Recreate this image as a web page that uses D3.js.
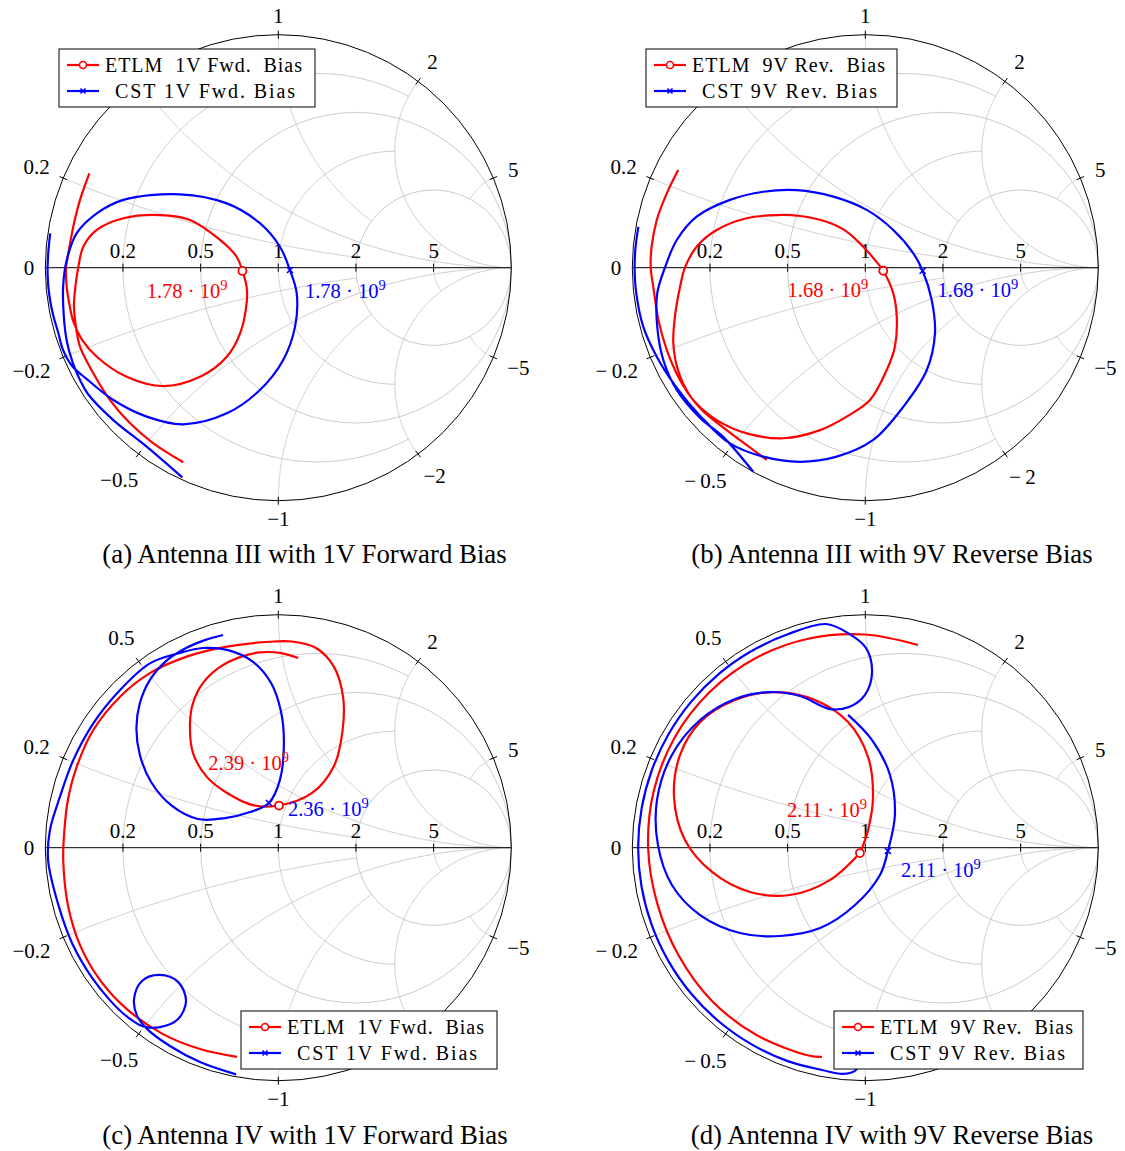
<!DOCTYPE html>
<html>
<head>
<meta charset="utf-8">
<script src="https://cdn.jsdelivr.net/npm/d3@7"></script>
<style>
  body { margin: 0; background: #fff; }
  svg { display: block; font-family: "Liberation Serif", "Times New Roman", serif; }
</style>
</head>
<body>
<svg id="fig" width="1125" height="1151"></svg>
<script>
// ---- Reflection coefficient traces, [Re Γ, Im Γ] ----
// Antenna III, 1 V forward bias
const etlmFwdIII = [[-0.811,0.405],[-0.851,0.291],[-0.880,0.176],[-0.901,0.062],[-0.911,-0.001],[-0.908,-0.083],[-0.896,-0.160],[-0.879,-0.233],[-0.842,-0.310],[-0.779,-0.382],[-0.651,-0.468],[-0.494,-0.508],[-0.336,-0.468],[-0.221,-0.382],[-0.164,-0.282],[-0.136,-0.153],[-0.136,-0.082],[-0.154,-0.014],[-0.179,0.047],[-0.250,0.119],[-0.379,0.205],[-0.508,0.226],[-0.665,0.212],[-0.779,0.162],[-0.837,0.090],[-0.858,0.004],[-0.870,-0.074],[-0.877,-0.160],[-0.870,-0.242],[-0.851,-0.339],[-0.794,-0.453],[-0.722,-0.568],[-0.636,-0.668],[-0.536,-0.754],[-0.408,-0.835]];
const cstFwdIII = [[-0.979,0.147],[-0.988,0.054],[-0.990,-0.031],[-0.983,-0.116],[-0.967,-0.201],[-0.945,-0.277],[-0.924,-0.353],[-0.885,-0.422],[-0.822,-0.478],[-0.708,-0.568],[-0.565,-0.639],[-0.408,-0.672],[-0.221,-0.625],[-0.079,-0.525],[0.021,-0.396],[0.072,-0.253],[0.079,-0.110],[0.050,-0.010],[0.007,0.090],[-0.079,0.191],[-0.221,0.276],[-0.422,0.315],[-0.665,0.291],[-0.779,0.233],[-0.865,0.148],[-0.908,0.033],[-0.923,-0.074],[-0.921,-0.203],[-0.907,-0.319],[-0.883,-0.405],[-0.851,-0.482],[-0.817,-0.542],[-0.708,-0.654],[-0.565,-0.768],[-0.412,-0.900]];
// Antenna III, 9 V reverse bias
const etlmRevIII = [[-0.803,0.419],[-0.852,0.319],[-0.895,0.205],[-0.917,0.090],[-0.921,0.000],[-0.910,-0.082],[-0.888,-0.224],[-0.852,-0.353],[-0.800,-0.473],[-0.735,-0.572],[-0.638,-0.654],[-0.509,-0.711],[-0.352,-0.732],[-0.194,-0.697],[-0.080,-0.639],[0.020,-0.568],[0.092,-0.439],[0.127,-0.339],[0.135,-0.210],[0.120,-0.110],[0.077,-0.013],[0.049,0.024],[-0.009,0.090],[-0.080,0.155],[-0.166,0.197],[-0.280,0.222],[-0.380,0.226],[-0.509,0.212],[-0.638,0.162],[-0.724,0.090],[-0.774,0.000],[-0.795,-0.082],[-0.817,-0.210],[-0.824,-0.324],[-0.804,-0.439],[-0.757,-0.542],[-0.697,-0.615],[-0.595,-0.697],[-0.481,-0.782],[-0.423,-0.825]];
const cstRevIII = [[-0.974,0.175],[-0.986,0.088],[-0.990,0.000],[-0.983,-0.109],[-0.953,-0.253],[-0.895,-0.382],[-0.809,-0.516],[-0.709,-0.636],[-0.581,-0.754],[-0.438,-0.811],[-0.280,-0.833],[-0.123,-0.811],[0.034,-0.739],[0.163,-0.597],[0.264,-0.439],[0.299,-0.282],[0.285,-0.139],[0.246,-0.013],[0.206,0.062],[0.120,0.162],[0.006,0.248],[-0.137,0.305],[-0.294,0.333],[-0.438,0.326],[-0.581,0.291],[-0.724,0.219],[-0.809,0.119],[-0.860,0.000],[-0.893,-0.110],[-0.893,-0.253],[-0.867,-0.396],[-0.809,-0.525],[-0.709,-0.645],[-0.609,-0.727],[-0.481,-0.876]];
// Antenna IV, 1 V forward bias
const etlmFwdIV = [[-0.177,-0.898],[-0.336,-0.864],[-0.495,-0.800],[-0.645,-0.697],[-0.765,-0.568],[-0.851,-0.418],[-0.903,-0.246],[-0.923,-0.053],[-0.918,0.076],[-0.903,0.205],[-0.865,0.348],[-0.794,0.505],[-0.679,0.648],[-0.551,0.749],[-0.393,0.820],[-0.221,0.863],[-0.036,0.884],[0.059,0.885],[0.162,0.857],[0.239,0.776],[0.278,0.647],[0.276,0.505],[0.239,0.351],[0.145,0.235],[0.003,0.181],[-0.109,0.183],[-0.220,0.235],[-0.306,0.303],[-0.366,0.406],[-0.379,0.535],[-0.366,0.621],[-0.323,0.707],[-0.250,0.776],[-0.164,0.818],[-0.079,0.838],[0.007,0.836],[0.085,0.814]];
const cstFwdIV = [[-0.237,0.913],[-0.315,0.891],[-0.396,0.857],[-0.482,0.801],[-0.551,0.720],[-0.594,0.621],[-0.609,0.514],[-0.594,0.398],[-0.546,0.282],[-0.456,0.179],[-0.345,0.123],[-0.229,0.127],[-0.121,0.153],[-0.040,0.192],[0.007,0.291],[0.024,0.441],[0.012,0.582],[-0.031,0.707],[-0.113,0.801],[-0.216,0.848],[-0.323,0.857],[-0.422,0.836],[-0.551,0.791],[-0.679,0.677],[-0.794,0.534],[-0.880,0.376],[-0.937,0.219],[-0.980,0.076],[-0.988,-0.053],[-0.942,-0.252],[-0.884,-0.412],[-0.799,-0.559],[-0.725,-0.652],[-0.658,-0.718],[-0.585,-0.765],[-0.508,-0.770],[-0.430,-0.735],[-0.396,-0.658],[-0.430,-0.576],[-0.508,-0.546],[-0.585,-0.572],[-0.619,-0.649],[-0.606,-0.722],[-0.559,-0.782],[-0.465,-0.851],[-0.336,-0.920],[-0.181,-0.973]];
// Antenna IV, 9 V reverse bias
const etlmRevIVArc = [[0.226,0.870],[0.000,0.915],[-0.241,0.898],[-0.470,0.814],[-0.668,0.668],[-0.818,0.473],[-0.908,0.243],[-0.932,0.000],[-0.893,-0.239],[-0.801,-0.463],[-0.658,-0.658],[-0.465,-0.805],[-0.239,-0.893],[-0.186,-0.898]];
const etlmRevIVLoop = [[-0.023,-0.023],[-0.152,-0.139],[-0.323,-0.203],[-0.495,-0.190],[-0.658,-0.104],[-0.774,0.033],[-0.821,0.218],[-0.795,0.398],[-0.709,0.539],[-0.559,0.634],[-0.388,0.668],[-0.216,0.634],[-0.074,0.539],[0.012,0.389],[0.033,0.218],[0.012,0.076],[-0.023,-0.023]];
const cstRevIV = [[-0.023,-0.912],[-0.040,-0.954],[-0.096,-0.971],[-0.186,-0.954],[-0.333,-0.916],[-0.488,-0.844],[-0.627,-0.747],[-0.747,-0.627],[-0.844,-0.488],[-0.916,-0.333],[-0.960,-0.169],[-0.975,0.000],[-0.960,0.169],[-0.916,0.333],[-0.844,0.488],[-0.747,0.627],[-0.627,0.747],[-0.488,0.844],[-0.333,0.916],[-0.169,0.960],[-0.074,0.921],[0.003,0.857],[0.029,0.754],[-0.002,0.655],[-0.070,0.604],[-0.152,0.595],[-0.280,0.651],[-0.409,0.668],[-0.559,0.638],[-0.709,0.548],[-0.830,0.398],[-0.894,0.205],[-0.890,0.012],[-0.830,-0.160],[-0.709,-0.289],[-0.538,-0.366],[-0.366,-0.379],[-0.194,-0.345],[-0.044,-0.246],[0.063,-0.117],[0.097,-0.014],[0.127,0.140],[0.106,0.312],[0.029,0.462],[-0.074,0.570]];

// Resonance points marked on each trace, [Re Γ, Im Γ] and frequency (GHz)
const markEtlmFwdIII = [-0.154,-0.014], fEtlmFwdIII = "1.78";
const markCstFwdIII  = [0.050,-0.010],  fCstFwdIII  = "1.78";
const markEtlmRevIII = [0.077,-0.013],  fEtlmRevIII = "1.68";
const markCstRevIII  = [0.246,-0.013],  fCstRevIII  = "1.68";
const markEtlmFwdIV  = [0.003,0.181],   fEtlmFwdIV  = "2.39";
const markCstFwdIV   = [-0.040,0.192],  fCstFwdIV   = "2.36";
const markEtlmRevIV  = [-0.023,-0.023], fEtlmRevIV  = "2.11";
const markCstRevIV   = [0.097,-0.014],  fCstRevIV   = "2.11";

// Smith chart grid values
const resistanceTicks = [0.2, 0.5, 1, 2, 5];
const reactanceTicks = [0.2, 0.5, 1, 2, 5, -0.2, -0.5, -1, -2, -5];
const fullResistance = [0.5, 2];   // other circles stop at |x| = 2
const fullReactance = [0.5, 2];    // other arcs stop at r = 2
const gridStop = 2;

const captions = [
  "(a) Antenna III with 1V Forward Bias",
  "(b) Antenna III with 9V Reverse Bias",
  "(c) Antenna IV with 1V Forward Bias",
  "(d) Antenna IV with 9V Reverse Bias"
];
const legendEtlm = ["ETLM  1V Fwd.  Bias", "ETLM  9V Rev.  Bias", "ETLM  1V Fwd.  Bias", "ETLM  9V Rev.  Bias"];
const legendCst  = ["CST 1V Fwd. Bias", "CST 9V Rev. Bias", "CST 1V Fwd. Bias", "CST 9V Rev. Bias"];

// ---- layout ----
const RAD = 233;
const RED = "#ff0000", BLUE = "#0000ff";
const TICK_FONT = 21;
const panels = [
  { cx: 278.3, cy: 267.7, capX: 304.5, capY: 563, etlm: [etlmFwdIII], cst: [cstFwdIII],
    mE: markEtlmFwdIII, fE: fEtlmFwdIII, mC: markCstFwdIII, fC: fCstFwdIII,
    labE: {dx: -15, dy: 27, anchor: "end"}, labC: {dx: 15, dy: 28, anchor: "start"},
    leg: {x: 59, y: 49, w: 256, t1: 197, t2: 180}, spaced: false },
  { cx: 865.3, cy: 267.7, capX: 892, capY: 563, etlm: [etlmRevIII], cst: [cstRevIII],
    mE: markEtlmRevIII, fE: fEtlmRevIII, mC: markCstRevIII, fC: fCstRevIII,
    labE: {dx: -15, dy: 26, anchor: "end"}, labC: {dx: 15, dy: 26, anchor: "start"},
    leg: {x: 646, y: 49, w: 251, t1: 193, t2: 175}, spaced: true },
  { cx: 278.3, cy: 847.7, capX: 305, capY: 1144, etlm: [etlmFwdIV], cst: [cstFwdIV],
    mE: markEtlmFwdIV, fE: fEtlmFwdIV, mC: markCstFwdIV, fC: fCstFwdIV,
    labE: {dx: 10, dy: -36, anchor: "end"}, labC: {dx: 19, dy: 13.5, anchor: "start"},
    leg: {x: 241, y: 1011, w: 256, t1: 197, t2: 180}, spaced: false },
  { cx: 865.3, cy: 847.7, capX: 892, capY: 1144, etlm: [etlmRevIVArc, etlmRevIVLoop], cst: [cstRevIV],
    mE: markEtlmRevIV, fE: fEtlmRevIV, mC: markCstRevIV, fC: fCstRevIV,
    labE: {dx: 7, dy: -36, anchor: "end"}, labC: {dx: 13, dy: 26, anchor: "start"},
    leg: {x: 834, y: 1011, w: 249, t1: 193, t2: 175}, spaced: true }
];
const LEG_H = 58;

const svg = d3.select("#fig");

// z = a + jb  ->  Γ = (z - 1)/(z + 1)
function gamma(a, b) {
  const d = (a + 1) * (a + 1) + b * b;
  return [(a * a - 1 + b * b) / d, (2 * b) / d];
}

function fmtTick(v, spaced) {
  if (v >= 0) return String(v);
  const s = String(-v);
  return (spaced && s !== "1" && s !== "5" ? "\u2212\u2009" : "\u2212") + s;
}

panels.forEach((p, i) => {
  const sx = d3.scaleLinear().domain([-1, 1]).range([p.cx - RAD, p.cx + RAD]);
  const sy = d3.scaleLinear().domain([-1, 1]).range([p.cy + RAD, p.cy - RAD]);
  const line = d3.line().x(d => sx(d[0])).y(d => sy(d[1]));
  const smooth = d3.line().x(d => sx(d[0])).y(d => sy(d[1])).curve(d3.curveCatmullRom.alpha(0.5));
  const g = svg.append("g");
  const L = p.leg;
  const underLegend = (x, y) => x > L.x - 4 && x < L.x + L.w + 4 && y > L.y - 4 && y < L.y + LEG_H + 4;

  // grid: constant resistance circles
  const grid = g.append("g").attr("fill", "none").attr("stroke", "#c4c4c4").attr("stroke-width", 0.9);
  resistanceTicks.forEach(r => {
    if (fullResistance.includes(r)) {
      grid.append("circle").attr("cx", sx(r / (1 + r))).attr("cy", sy(0))
        .attr("r", sx(1 / (1 + r)) - sx(0));
    } else {
      const smax = gridStop / (1 + gridStop), pts = [];
      for (let k = 0; k <= 400; k++) {
        const s = -smax + 2 * smax * k / 400;
        pts.push(gamma(r, s / (1 - Math.abs(s))));
      }
      grid.append("path").attr("d", line(pts));
    }
  });
  // grid: constant reactance arcs
  reactanceTicks.forEach(x => {
    const full = fullReactance.includes(Math.abs(x));
    const smax = full ? 0.9995 : gridStop / (1 + gridStop), pts = [];
    for (let k = 0; k <= 400; k++) {
      const s = smax * k / 400;
      pts.push(gamma(s / (1 - s), x));
    }
    if (full) pts.push([1, 0]);
    grid.append("path").attr("d", line(pts));
  });

  // unit circle and real axis
  g.append("circle").attr("cx", sx(0)).attr("cy", sy(0)).attr("r", RAD)
    .attr("fill", "none").attr("stroke", "#000").attr("stroke-width", 1);
  g.append("line").attr("x1", sx(-1)).attr("x2", sx(1)).attr("y1", sy(0)).attr("y2", sy(0))
    .attr("stroke", "#000").attr("stroke-width", 1);

  // ticks on the real axis
  resistanceTicks.forEach(r => {
    const u = (r - 1) / (r + 1);
    g.append("line").attr("x1", sx(u)).attr("x2", sx(u)).attr("y1", sy(0) - 4).attr("y2", sy(0) + 4)
      .attr("stroke", "#000").attr("stroke-width", 1);
    g.append("text").attr("x", sx(u)).attr("y", sy(0) - 10).attr("text-anchor", "middle")
      .attr("font-size", TICK_FONT).text(String(r));
  });

  // ticks and labels round the outer circle
  const ring = reactanceTicks.map(x => ({ v: x, p: gamma(0, x) }));
  ring.push({ v: 0, p: [-1, 0] });
  ring.forEach(t => {
    const [u, v] = t.p, dx = u, dy = -v;
    if (t.v !== 0) {
      g.append("line")
        .attr("x1", sx(u) - dx * 4).attr("y1", sy(v) - dy * 4)
        .attr("x2", sx(u) + dx * 4).attr("y2", sy(v) + dy * 4)
        .attr("stroke", "#000").attr("stroke-width", 1);
    }
    const txt = g.append("text").attr("text-anchor", "middle").attr("font-size", TICK_FONT)
      .text(fmtTick(t.v, p.spaced));
    const w = txt.node().getComputedTextLength();
    const d = 11 + (w / 2) * Math.abs(dx) + 7.5 * Math.abs(dy) + 8 * Math.abs(dx * dy);
    const tx = sx(u) + dx * d, ty = sy(v) + dy * d;
    if (underLegend(tx, ty)) { txt.remove(); return; }
    txt.attr("x", tx).attr("y", ty + 7);
  });

  // traces
  p.etlm.forEach(seg => g.append("path").attr("d", smooth(seg)).attr("fill", "none")
    .attr("stroke", RED).attr("stroke-width", 2.2).attr("stroke-linejoin", "round"));
  p.cst.forEach(seg => g.append("path").attr("d", smooth(seg)).attr("fill", "none")
    .attr("stroke", BLUE).attr("stroke-width", 2.2).attr("stroke-linejoin", "round"));

  // resonance markers and their frequency labels
  g.append("circle").attr("cx", sx(p.mE[0])).attr("cy", sy(p.mE[1])).attr("r", 4)
    .attr("fill", "#fff").attr("stroke", RED).attr("stroke-width", 1.8);
  const bx = sx(p.mC[0]), by = sy(p.mC[1]);
  g.append("path").attr("d", `M${bx - 3},${by - 3}L${bx + 3},${by + 3}M${bx - 3},${by + 3}L${bx + 3},${by - 3}`)
    .attr("stroke", BLUE).attr("stroke-width", 1.6);

  function freqLabel(m, f, lab, color) {
    const t = g.append("text").attr("x", sx(m[0]) + lab.dx).attr("y", sy(m[1]) + lab.dy)
      .attr("text-anchor", lab.anchor).attr("font-size", 20.5).attr("fill", color);
    t.append("tspan").text(f + " \u00b7 10");
    t.append("tspan").attr("font-size", 14.5).attr("dy", -8).text("9");
  }
  freqLabel(p.mE, p.fE, p.labE, RED);
  freqLabel(p.mC, p.fC, p.labC, BLUE);

  // legend
  const lg = g.append("g");
  lg.append("rect").attr("x", L.x).attr("y", L.y).attr("width", L.w).attr("height", LEG_H)
    .attr("fill", "#fff").attr("stroke", "#000").attr("stroke-width", 1);
  [[RED, legendEtlm[i], 16, 46, L.t1], [BLUE, legendCst[i], 42, 56, L.t2]].forEach(([c, label, ry, tx, tl], k) => {
    const yy = L.y + ry;
    lg.append("line").attr("x1", L.x + 8).attr("x2", L.x + 40).attr("y1", yy).attr("y2", yy)
      .attr("stroke", c).attr("stroke-width", 2.2);
    if (k === 0) {
      lg.append("circle").attr("cx", L.x + 24).attr("cy", yy).attr("r", 3.5)
        .attr("fill", "#fff").attr("stroke", c).attr("stroke-width", 1.6);
    } else {
      const mx = L.x + 24;
      lg.append("path").attr("d", `M${mx - 2.5},${yy - 2.5}L${mx + 2.5},${yy + 2.5}M${mx - 2.5},${yy + 2.5}L${mx + 2.5},${yy - 2.5}`)
        .attr("stroke", c).attr("stroke-width", 1.6);
    }
    lg.append("text").attr("x", L.x + tx).attr("y", yy + 6.6).attr("font-size", 20)
      .attr("textLength", tl).attr("lengthAdjust", "spacing")
      .style("white-space", "pre").text(label);
  });

  // caption
  svg.append("text").attr("x", p.capX).attr("y", p.capY).attr("text-anchor", "middle")
    .attr("font-size", 26.8).text(captions[i]);
});
</script>
</body>
</html>
